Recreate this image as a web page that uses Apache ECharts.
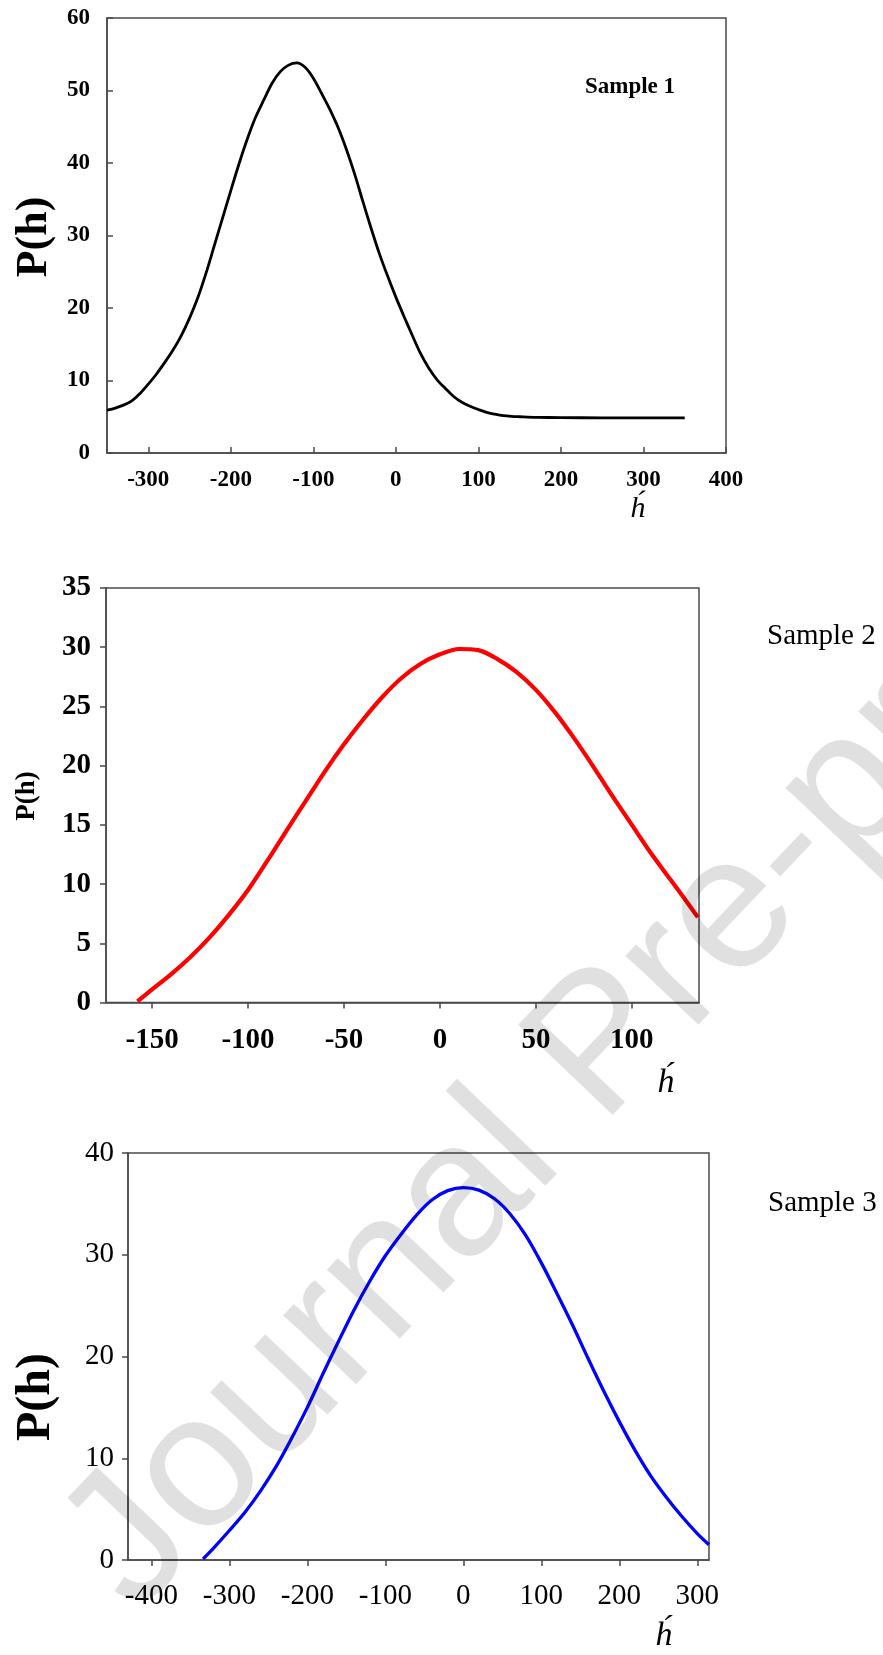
<!DOCTYPE html>
<html>
<head>
<meta charset="utf-8">
<script src="https://cdn.jsdelivr.net/npm/echarts@6/dist/echarts.min.js"></script>
<style>
html, body { margin: 0; padding: 0; background: #fff; }
#chart { width: 883px; height: 1655px; }
</style>
</head>
<body>
<div id="chart"></div>
<script>
// Sample 1 (black)
const sample1H = [-350, -340, -330, -320, -310, -300, -290, -280, -270, -260, -250, -240, -230, -220, -210, -200, -190, -180, -170, -160, -150, -140, -130, -120, -110, -100, -90, -80, -70, -60, -50, -40, -30, -20, -10, 0, 10, 20, 30, 40, 50, 60, 70, 80, 90, 100, 110, 120, 130, 140, 150, 170, 200, 250, 300, 350]
const sample1P = [5.9, 6.2, 6.6, 7.2, 8.2, 9.5, 10.9, 12.5, 14.2, 16.2, 18.6, 21.4, 24.8, 28.6, 32.4, 36.2, 39.9, 43.3, 46.3, 48.7, 51.0, 52.6, 53.5, 53.8, 53.2, 51.7, 49.6, 47.4, 44.9, 41.9, 38.5, 34.7, 31.0, 27.5, 24.4, 21.5, 18.8, 16.2, 13.7, 11.7, 10.1, 8.9, 7.8, 7.0, 6.45, 6.0, 5.6, 5.35, 5.15, 5.05, 5.0, 4.92, 4.88, 4.85, 4.85, 4.85]

// Sample 2 (red)
const sample2H = [-157.6, -150, -140, -130, -120, -110, -100, -90, -80, -70, -60, -50, -40, -30, -20, -10, 0, 10, 20, 30, 40, 50, 60, 70, 80, 90, 100, 110, 120, 130, 134.4]
const sample2P = [0.1, 1.1, 2.4, 3.85, 5.5, 7.4, 9.5, 11.95, 14.5, 17.0, 19.5, 21.8, 23.9, 25.8, 27.4, 28.6, 29.4, 29.85, 29.75, 29.0, 27.9, 26.4, 24.5, 22.3, 19.9, 17.4, 15.0, 12.6, 10.4, 8.2, 7.2]

// Sample 3 (blue)
const sample3H = [-333.8, -320, -300, -280, -260, -240, -220, -200, -180, -160, -140, -120, -100, -80, -60, -40, -20, 0, 20, 40, 60, 80, 100, 120, 140, 160, 180, 200, 220, 240, 260, 280, 300, 315]
const sample3P = [0.1, 1.2, 2.9, 4.7, 6.8, 9.2, 12.0, 15.0, 18.3, 21.5, 24.6, 27.4, 29.9, 32.0, 33.9, 35.4, 36.3, 36.6, 36.35, 35.5, 34.0, 31.9, 29.2, 26.2, 23.1, 19.8, 16.6, 13.6, 10.8, 8.3, 6.2, 4.3, 2.6, 1.5]

// tick labels
const xTicks1 = [-300, -200, -100, 0, 100, 200, 300, 400]
const xTicks2 = [-150, -100, -50, 0, 50, 100]
const xTicks3 = [-400, -300, -200, -100, 0, 100, 200, 300]

const SERIF = 'Liberation Serif'
const FRAME = '#4a4a4a'

const pairs = (xs, ys) => xs.map((x, i) => [x, ys[i]])

/** 通用坐标轴 */
function makeAxis(opts) {
  return {
    type: 'value',
    gridIndex: opts.grid,
    min: opts.min,
    max: opts.max,
    interval: opts.interval,
    axisLine: { show: true, onZero: false, lineStyle: { color: FRAME, width: 1.5 } },
    axisTick: {
      show: true, inside: opts.inside, length: 6,
      customValues: opts.ticks,
      lineStyle: { color: FRAME, width: 1.5 },
    },
    axisLabel: {
      customValues: opts.ticks,
      margin: opts.margin,
      color: '#000',
      fontFamily: SERIF,
      fontSize: opts.fontSize,
      fontWeight: opts.bold ? 'bold' : 'normal',
      showMinLabel: true, showMaxLabel: true,
      hideOverlap: false,
    },
    splitLine: { show: false },
  }
}

const chart = echarts.init(document.getElementById('chart'))

const option = {
  backgroundColor: '#fff',
  animation: false,
  grid: [
    { left: 107, top: 18, width: 619, height: 435, show: true, borderColor: FRAME, borderWidth: 1.5 },
    { left: 106, top: 588, width: 593, height: 414.5, show: true, borderColor: FRAME, borderWidth: 1.5 },
    { left: 128, top: 1153, width: 581, height: 407, show: true, borderColor: FRAME, borderWidth: 1.5 },
  ],
  xAxis: [
    makeAxis({ grid: 0, min: -350, max: 400, ticks: xTicks1, inside: true, fontSize: 23, bold: true, margin: 16 }),
    makeAxis({ grid: 1, min: -174, max: 135, ticks: xTicks2, inside: false, fontSize: 29, bold: true, margin: 24 }),
    makeAxis({ grid: 2, min: -430, max: 315, ticks: xTicks3, inside: false, fontSize: 29, bold: false, margin: 22 }),
  ],
  yAxis: [
    makeAxis({ grid: 0, min: 0, max: 60, interval: 10, inside: true, fontSize: 23, bold: true, margin: 17 }),
    makeAxis({ grid: 1, min: 0, max: 35, interval: 5, inside: false, fontSize: 29, bold: true, margin: 15 }),
    makeAxis({ grid: 2, min: 0, max: 40, interval: 10, inside: false, fontSize: 29, bold: false, margin: 14 }),
  ],
  series: [
    {
      name: 'Sample 1', type: 'line', xAxisIndex: 0, yAxisIndex: 0,
      data: pairs(sample1H, sample1P), smooth: 0.3, showSymbol: false,
      lineStyle: { color: '#000', width: 2.8 },
    },
    {
      name: 'Sample 2', type: 'line', xAxisIndex: 1, yAxisIndex: 1,
      data: pairs(sample2H, sample2P), smooth: 0.3, showSymbol: false,
      lineStyle: { color: '#ff0000', width: 4.2 },
    },
    {
      name: 'Sample 3', type: 'line', xAxisIndex: 2, yAxisIndex: 2,
      data: pairs(sample3H, sample3P), smooth: 0.3, showSymbol: false,
      lineStyle: { color: '#0000ff', width: 3.3 },
    },
  ],
  graphic: [
    // y 轴标题
    { type: 'text', x: 35, y: 237, rotation: Math.PI / 2,
      style: { text: 'P(h)', fontFamily: SERIF, fontWeight: 'bold', fontSize: 44, fill: '#000', align: 'center', verticalAlign: 'middle' } },
    { type: 'text', x: 27, y: 796, rotation: Math.PI / 2,
      style: { text: 'P(h)', fontFamily: SERIF, fontWeight: 'bold', fontSize: 27, fill: '#000', align: 'center', verticalAlign: 'middle' } },
    { type: 'text', x: 37, y: 1397, rotation: Math.PI / 2,
      style: { text: 'P(h)', fontFamily: SERIF, fontWeight: 'bold', fontSize: 48, fill: '#000', align: 'center', verticalAlign: 'middle' } },
    // x 轴标题
    { type: 'text', x: 638, y: 509,
      style: { text: 'h\u0301', fontFamily: SERIF, fontStyle: 'italic', fontSize: 30, fill: '#000', align: 'center', verticalAlign: 'middle' } },
    { type: 'text', x: 666, y: 1083,
      style: { text: 'h\u0301', fontFamily: SERIF, fontStyle: 'italic', fontSize: 34, fill: '#000', align: 'center', verticalAlign: 'middle' } },
    { type: 'text', x: 664, y: 1636,
      style: { text: 'h\u0301', fontFamily: SERIF, fontStyle: 'italic', fontSize: 34, fill: '#000', align: 'center', verticalAlign: 'middle' } },
    // 样品标注
    { type: 'text', x: 630, y: 87,
      style: { text: 'Sample 1', fontFamily: SERIF, fontWeight: 'bold', fontSize: 23, fill: '#000', align: 'center', verticalAlign: 'middle' } },
    { type: 'text', x: 767, y: 636,
      style: { text: 'Sample 2', fontFamily: SERIF, fontSize: 29, fill: '#000', align: 'left', verticalAlign: 'middle' } },
    { type: 'text', x: 768, y: 1203,
      style: { text: 'Sample 3', fontFamily: SERIF, fontSize: 29, fill: '#000', align: 'left', verticalAlign: 'middle' } },
    // 水印
    { type: 'text', x: 604, y: 1048, rotation: 0.81, z: 100, silent: true,
      style: { text: 'Journal Pre-proof', fontFamily: 'Liberation Sans', fontSize: 190, fill: 'rgba(0,0,0,0.12)', align: 'center', verticalAlign: 'middle' } },
  ],
}

chart.setOption(option)
</script>
</body>
</html>
